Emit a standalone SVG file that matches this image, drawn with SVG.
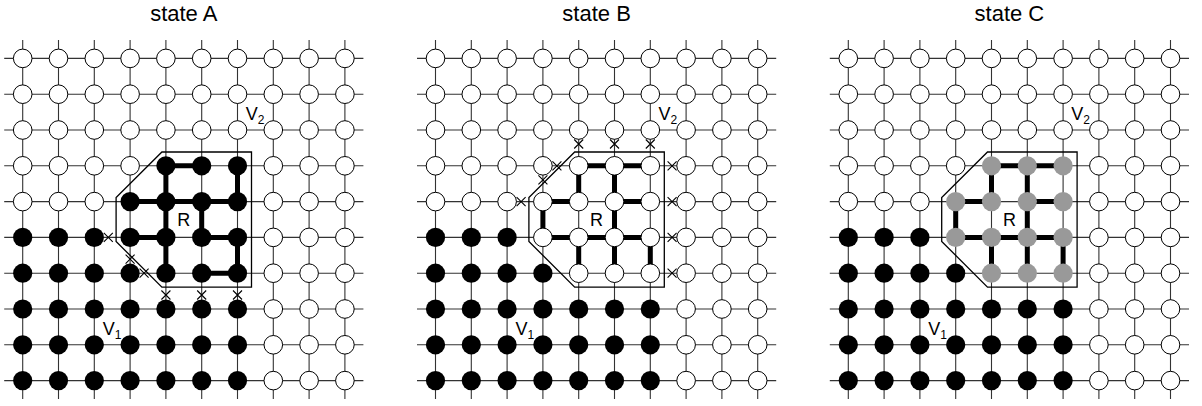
<svg xmlns="http://www.w3.org/2000/svg" xmlns:xlink="http://www.w3.org/1999/xlink" width="1202" height="406" viewBox="0 0 1202 406">
<style>
.grid{stroke:#333;stroke-width:1.1;fill:none}
.thick{stroke:#000;stroke-width:5;fill:none;stroke-linecap:butt}
.outline{stroke:#000;stroke-width:1.3;fill:none}
.cut{stroke:#000;stroke-width:1.1;fill:none}
.w{fill:#fff;stroke:#000;stroke-width:1}
.b{fill:#000}
.g{fill:#999}
.title{font-family:"Liberation Sans",Arial,sans-serif;font-size:22px;fill:#000;text-anchor:middle}
.lbl{font-family:"Liberation Sans",Arial,sans-serif;font-size:18px;fill:#000}
.sub{font-size:12px}
</style>
<defs>
<path id="x" d="M-4.5,-4.5L4.5,4.5M-4.5,4.5L4.5,-4.5" class="cut"/>
<g id="gridlines" class="grid">
<path d="M-18.5,0H340.7M-18.5,35.8H340.7M-18.5,71.6H340.7M-18.5,107.4H340.7M-18.5,143.2H340.7M-18.5,179H340.7M-18.5,214.8H340.7M-18.5,250.6H340.7M-18.5,286.4H340.7M-18.5,322.2H340.7"/>
<path d="M0,-18.5V340.7M35.8,-18.5V340.7M71.6,-18.5V340.7M107.4,-18.5V340.7M143.2,-18.5V340.7M179,-18.5V340.7M214.8,-18.5V340.7M250.6,-18.5V340.7M286.4,-18.5V340.7M322.2,-18.5V340.7"/>
</g>
<polygon id="region" class="outline" points="139.2,93.6 228.8,93.6 228.8,228.8 139.2,228.8 93.4,183 93.4,139.2"/>
<circle id="nw" r="9.3" class="w"/>
<circle id="nb" r="9.6" class="b"/>
<circle id="ng" r="9.6" class="g"/>
</defs>

<text class="title" x="183.8" y="21">state A</text>
<text class="title" x="596.6" y="21">state B</text>
<text class="title" x="1009.4" y="21">state C</text>

<!-- Panel A -->
<g id="panelA" transform="translate(22.7,58.4)">
<g id="A-connectors">
<use href="#gridlines"/>
<path class="thick" d="M143.2,107.4H179 M107.4,143.2H214.8 M107.4,179H143.2 M179,179H214.8 M179,214.8H214.8 M143.2,107.4V214.8 M214.8,107.4V143.2 M214.8,179V214.8 M179,143.2V179"/>
<use href="#region"/>
</g>
<g id="A-nodes">
<g id="A-r0"><use href="#nw" x="0" y="0"/><use href="#nw" x="35.8" y="0"/><use href="#nw" x="71.6" y="0"/><use href="#nw" x="107.4" y="0"/><use href="#nw" x="143.2" y="0"/><use href="#nw" x="179" y="0"/><use href="#nw" x="214.8" y="0"/><use href="#nw" x="250.6" y="0"/><use href="#nw" x="286.4" y="0"/><use href="#nw" x="322.2" y="0"/></g>
<g id="A-r1"><use href="#nw" x="0" y="35.8"/><use href="#nw" x="35.8" y="35.8"/><use href="#nw" x="71.6" y="35.8"/><use href="#nw" x="107.4" y="35.8"/><use href="#nw" x="143.2" y="35.8"/><use href="#nw" x="179" y="35.8"/><use href="#nw" x="214.8" y="35.8"/><use href="#nw" x="250.6" y="35.8"/><use href="#nw" x="286.4" y="35.8"/><use href="#nw" x="322.2" y="35.8"/></g>
<g id="A-r2"><use href="#nw" x="0" y="71.6"/><use href="#nw" x="35.8" y="71.6"/><use href="#nw" x="71.6" y="71.6"/><use href="#nw" x="107.4" y="71.6"/><use href="#nw" x="143.2" y="71.6"/><use href="#nw" x="179" y="71.6"/><use href="#nw" x="214.8" y="71.6"/><use href="#nw" x="250.6" y="71.6"/><use href="#nw" x="286.4" y="71.6"/><use href="#nw" x="322.2" y="71.6"/></g>
<g id="A-r3"><use href="#nw" x="0" y="107.4"/><use href="#nw" x="35.8" y="107.4"/><use href="#nw" x="71.6" y="107.4"/><use href="#nw" x="107.4" y="107.4"/><use href="#nb" x="143.2" y="107.4"/><use href="#nb" x="179" y="107.4"/><use href="#nb" x="214.8" y="107.4"/><use href="#nw" x="250.6" y="107.4"/><use href="#nw" x="286.4" y="107.4"/><use href="#nw" x="322.2" y="107.4"/></g>
<g id="A-r4"><use href="#nw" x="0" y="143.2"/><use href="#nw" x="35.8" y="143.2"/><use href="#nw" x="71.6" y="143.2"/><use href="#nb" x="107.4" y="143.2"/><use href="#nb" x="143.2" y="143.2"/><use href="#nb" x="179" y="143.2"/><use href="#nb" x="214.8" y="143.2"/><use href="#nw" x="250.6" y="143.2"/><use href="#nw" x="286.4" y="143.2"/><use href="#nw" x="322.2" y="143.2"/></g>
<g id="A-r5"><use href="#nb" x="0" y="179"/><use href="#nb" x="35.8" y="179"/><use href="#nb" x="71.6" y="179"/><use href="#nb" x="107.4" y="179"/><use href="#nb" x="143.2" y="179"/><use href="#nb" x="179" y="179"/><use href="#nb" x="214.8" y="179"/><use href="#nw" x="250.6" y="179"/><use href="#nw" x="286.4" y="179"/><use href="#nw" x="322.2" y="179"/></g>
<g id="A-r6"><use href="#nb" x="0" y="214.8"/><use href="#nb" x="35.8" y="214.8"/><use href="#nb" x="71.6" y="214.8"/><use href="#nb" x="107.4" y="214.8"/><use href="#nb" x="143.2" y="214.8"/><use href="#nb" x="179" y="214.8"/><use href="#nb" x="214.8" y="214.8"/><use href="#nw" x="250.6" y="214.8"/><use href="#nw" x="286.4" y="214.8"/><use href="#nw" x="322.2" y="214.8"/></g>
<g id="A-r7"><use href="#nb" x="0" y="250.6"/><use href="#nb" x="35.8" y="250.6"/><use href="#nb" x="71.6" y="250.6"/><use href="#nb" x="107.4" y="250.6"/><use href="#nb" x="143.2" y="250.6"/><use href="#nb" x="179" y="250.6"/><use href="#nb" x="214.8" y="250.6"/><use href="#nw" x="250.6" y="250.6"/><use href="#nw" x="286.4" y="250.6"/><use href="#nw" x="322.2" y="250.6"/></g>
<g id="A-r8"><use href="#nb" x="0" y="286.4"/><use href="#nb" x="35.8" y="286.4"/><use href="#nb" x="71.6" y="286.4"/><use href="#nb" x="107.4" y="286.4"/><use href="#nb" x="143.2" y="286.4"/><use href="#nb" x="179" y="286.4"/><use href="#nb" x="214.8" y="286.4"/><use href="#nw" x="250.6" y="286.4"/><use href="#nw" x="286.4" y="286.4"/><use href="#nw" x="322.2" y="286.4"/></g>
<g id="A-r9"><use href="#nb" x="0" y="322.2"/><use href="#nb" x="35.8" y="322.2"/><use href="#nb" x="71.6" y="322.2"/><use href="#nb" x="107.4" y="322.2"/><use href="#nb" x="143.2" y="322.2"/><use href="#nb" x="179" y="322.2"/><use href="#nb" x="214.8" y="322.2"/><use href="#nw" x="250.6" y="322.2"/><use href="#nw" x="286.4" y="322.2"/><use href="#nw" x="322.2" y="322.2"/></g>
</g>
<g id="A-cuts"><use href="#x" x="85.6" y="179"/><use href="#x" x="107.4" y="200.8"/><use href="#x" x="121.4" y="214.8"/><use href="#x" x="143.2" y="236.6"/><use href="#x" x="179" y="236.6"/><use href="#x" x="214.8" y="236.6"/></g>
<text class="lbl" x="161.1" y="168" text-anchor="middle">R</text>
<text class="lbl" x="223" y="62">V<tspan class="sub" dy="4">2</tspan></text>
<text class="lbl" x="80" y="277">V<tspan class="sub" dy="4">1</tspan></text>
</g>

<!-- Panel B -->
<g id="panelB" transform="translate(435.5,58.4)">
<g id="B-connectors">
<use href="#gridlines"/>
<path class="thick" d="M143.2,107.4H214.8 M107.4,143.2H143.2 M179,143.2H214.8 M107.4,179H214.8 M143.2,107.4V143.2 M143.2,179V214.8 M179,107.4V214.8 M107.4,143.2V179 M214.8,179V214.8"/>
<use href="#region"/>
</g>
<g id="B-nodes">
<g id="B-r0"><use href="#nw" x="0" y="0"/><use href="#nw" x="35.8" y="0"/><use href="#nw" x="71.6" y="0"/><use href="#nw" x="107.4" y="0"/><use href="#nw" x="143.2" y="0"/><use href="#nw" x="179" y="0"/><use href="#nw" x="214.8" y="0"/><use href="#nw" x="250.6" y="0"/><use href="#nw" x="286.4" y="0"/><use href="#nw" x="322.2" y="0"/></g>
<g id="B-r1"><use href="#nw" x="0" y="35.8"/><use href="#nw" x="35.8" y="35.8"/><use href="#nw" x="71.6" y="35.8"/><use href="#nw" x="107.4" y="35.8"/><use href="#nw" x="143.2" y="35.8"/><use href="#nw" x="179" y="35.8"/><use href="#nw" x="214.8" y="35.8"/><use href="#nw" x="250.6" y="35.8"/><use href="#nw" x="286.4" y="35.8"/><use href="#nw" x="322.2" y="35.8"/></g>
<g id="B-r2"><use href="#nw" x="0" y="71.6"/><use href="#nw" x="35.8" y="71.6"/><use href="#nw" x="71.6" y="71.6"/><use href="#nw" x="107.4" y="71.6"/><use href="#nw" x="143.2" y="71.6"/><use href="#nw" x="179" y="71.6"/><use href="#nw" x="214.8" y="71.6"/><use href="#nw" x="250.6" y="71.6"/><use href="#nw" x="286.4" y="71.6"/><use href="#nw" x="322.2" y="71.6"/></g>
<g id="B-r3"><use href="#nw" x="0" y="107.4"/><use href="#nw" x="35.8" y="107.4"/><use href="#nw" x="71.6" y="107.4"/><use href="#nw" x="107.4" y="107.4"/><use href="#nw" x="143.2" y="107.4"/><use href="#nw" x="179" y="107.4"/><use href="#nw" x="214.8" y="107.4"/><use href="#nw" x="250.6" y="107.4"/><use href="#nw" x="286.4" y="107.4"/><use href="#nw" x="322.2" y="107.4"/></g>
<g id="B-r4"><use href="#nw" x="0" y="143.2"/><use href="#nw" x="35.8" y="143.2"/><use href="#nw" x="71.6" y="143.2"/><use href="#nw" x="107.4" y="143.2"/><use href="#nw" x="143.2" y="143.2"/><use href="#nw" x="179" y="143.2"/><use href="#nw" x="214.8" y="143.2"/><use href="#nw" x="250.6" y="143.2"/><use href="#nw" x="286.4" y="143.2"/><use href="#nw" x="322.2" y="143.2"/></g>
<g id="B-r5"><use href="#nb" x="0" y="179"/><use href="#nb" x="35.8" y="179"/><use href="#nb" x="71.6" y="179"/><use href="#nw" x="107.4" y="179"/><use href="#nw" x="143.2" y="179"/><use href="#nw" x="179" y="179"/><use href="#nw" x="214.8" y="179"/><use href="#nw" x="250.6" y="179"/><use href="#nw" x="286.4" y="179"/><use href="#nw" x="322.2" y="179"/></g>
<g id="B-r6"><use href="#nb" x="0" y="214.8"/><use href="#nb" x="35.8" y="214.8"/><use href="#nb" x="71.6" y="214.8"/><use href="#nb" x="107.4" y="214.8"/><use href="#nw" x="143.2" y="214.8"/><use href="#nw" x="179" y="214.8"/><use href="#nw" x="214.8" y="214.8"/><use href="#nw" x="250.6" y="214.8"/><use href="#nw" x="286.4" y="214.8"/><use href="#nw" x="322.2" y="214.8"/></g>
<g id="B-r7"><use href="#nb" x="0" y="250.6"/><use href="#nb" x="35.8" y="250.6"/><use href="#nb" x="71.6" y="250.6"/><use href="#nb" x="107.4" y="250.6"/><use href="#nb" x="143.2" y="250.6"/><use href="#nb" x="179" y="250.6"/><use href="#nb" x="214.8" y="250.6"/><use href="#nw" x="250.6" y="250.6"/><use href="#nw" x="286.4" y="250.6"/><use href="#nw" x="322.2" y="250.6"/></g>
<g id="B-r8"><use href="#nb" x="0" y="286.4"/><use href="#nb" x="35.8" y="286.4"/><use href="#nb" x="71.6" y="286.4"/><use href="#nb" x="107.4" y="286.4"/><use href="#nb" x="143.2" y="286.4"/><use href="#nb" x="179" y="286.4"/><use href="#nb" x="214.8" y="286.4"/><use href="#nw" x="250.6" y="286.4"/><use href="#nw" x="286.4" y="286.4"/><use href="#nw" x="322.2" y="286.4"/></g>
<g id="B-r9"><use href="#nb" x="0" y="322.2"/><use href="#nb" x="35.8" y="322.2"/><use href="#nb" x="71.6" y="322.2"/><use href="#nb" x="107.4" y="322.2"/><use href="#nb" x="143.2" y="322.2"/><use href="#nb" x="179" y="322.2"/><use href="#nb" x="214.8" y="322.2"/><use href="#nw" x="250.6" y="322.2"/><use href="#nw" x="286.4" y="322.2"/><use href="#nw" x="322.2" y="322.2"/></g>
</g>
<g id="B-cuts"><use href="#x" x="121.4" y="107.4"/><use href="#x" x="107.4" y="121.4"/><use href="#x" x="85.6" y="143.2"/><use href="#x" x="143.2" y="85.6"/><use href="#x" x="179" y="85.6"/><use href="#x" x="214.8" y="85.6"/><use href="#x" x="236.6" y="107.4"/><use href="#x" x="236.6" y="143.2"/><use href="#x" x="236.6" y="179"/><use href="#x" x="236.6" y="214.8"/></g>
<text class="lbl" x="161.1" y="168" text-anchor="middle">R</text>
<text class="lbl" x="223" y="62">V<tspan class="sub" dy="4">2</tspan></text>
<text class="lbl" x="80" y="277">V<tspan class="sub" dy="4">1</tspan></text>
</g>

<!-- Panel C -->
<g id="panelC" transform="translate(848.3,58.4)">
<g id="C-connectors">
<use href="#gridlines"/>
<path class="thick" d="M143.2,107.4H214.8 M107.4,143.2H143.2 M179,143.2H214.8 M107.4,179H214.8 M143.2,107.4V143.2 M143.2,179V214.8 M179,107.4V214.8 M107.4,143.2V179 M214.8,179V214.8"/>
<use href="#region"/>
</g>
<g id="C-nodes">
<g id="C-r0"><use href="#nw" x="0" y="0"/><use href="#nw" x="35.8" y="0"/><use href="#nw" x="71.6" y="0"/><use href="#nw" x="107.4" y="0"/><use href="#nw" x="143.2" y="0"/><use href="#nw" x="179" y="0"/><use href="#nw" x="214.8" y="0"/><use href="#nw" x="250.6" y="0"/><use href="#nw" x="286.4" y="0"/><use href="#nw" x="322.2" y="0"/></g>
<g id="C-r1"><use href="#nw" x="0" y="35.8"/><use href="#nw" x="35.8" y="35.8"/><use href="#nw" x="71.6" y="35.8"/><use href="#nw" x="107.4" y="35.8"/><use href="#nw" x="143.2" y="35.8"/><use href="#nw" x="179" y="35.8"/><use href="#nw" x="214.8" y="35.8"/><use href="#nw" x="250.6" y="35.8"/><use href="#nw" x="286.4" y="35.8"/><use href="#nw" x="322.2" y="35.8"/></g>
<g id="C-r2"><use href="#nw" x="0" y="71.6"/><use href="#nw" x="35.8" y="71.6"/><use href="#nw" x="71.6" y="71.6"/><use href="#nw" x="107.4" y="71.6"/><use href="#nw" x="143.2" y="71.6"/><use href="#nw" x="179" y="71.6"/><use href="#nw" x="214.8" y="71.6"/><use href="#nw" x="250.6" y="71.6"/><use href="#nw" x="286.4" y="71.6"/><use href="#nw" x="322.2" y="71.6"/></g>
<g id="C-r3"><use href="#nw" x="0" y="107.4"/><use href="#nw" x="35.8" y="107.4"/><use href="#nw" x="71.6" y="107.4"/><use href="#nw" x="107.4" y="107.4"/><use href="#ng" x="143.2" y="107.4"/><use href="#ng" x="179" y="107.4"/><use href="#ng" x="214.8" y="107.4"/><use href="#nw" x="250.6" y="107.4"/><use href="#nw" x="286.4" y="107.4"/><use href="#nw" x="322.2" y="107.4"/></g>
<g id="C-r4"><use href="#nw" x="0" y="143.2"/><use href="#nw" x="35.8" y="143.2"/><use href="#nw" x="71.6" y="143.2"/><use href="#ng" x="107.4" y="143.2"/><use href="#ng" x="143.2" y="143.2"/><use href="#ng" x="179" y="143.2"/><use href="#ng" x="214.8" y="143.2"/><use href="#nw" x="250.6" y="143.2"/><use href="#nw" x="286.4" y="143.2"/><use href="#nw" x="322.2" y="143.2"/></g>
<g id="C-r5"><use href="#nb" x="0" y="179"/><use href="#nb" x="35.8" y="179"/><use href="#nb" x="71.6" y="179"/><use href="#ng" x="107.4" y="179"/><use href="#ng" x="143.2" y="179"/><use href="#ng" x="179" y="179"/><use href="#ng" x="214.8" y="179"/><use href="#nw" x="250.6" y="179"/><use href="#nw" x="286.4" y="179"/><use href="#nw" x="322.2" y="179"/></g>
<g id="C-r6"><use href="#nb" x="0" y="214.8"/><use href="#nb" x="35.8" y="214.8"/><use href="#nb" x="71.6" y="214.8"/><use href="#nb" x="107.4" y="214.8"/><use href="#ng" x="143.2" y="214.8"/><use href="#ng" x="179" y="214.8"/><use href="#ng" x="214.8" y="214.8"/><use href="#nw" x="250.6" y="214.8"/><use href="#nw" x="286.4" y="214.8"/><use href="#nw" x="322.2" y="214.8"/></g>
<g id="C-r7"><use href="#nb" x="0" y="250.6"/><use href="#nb" x="35.8" y="250.6"/><use href="#nb" x="71.6" y="250.6"/><use href="#nb" x="107.4" y="250.6"/><use href="#nb" x="143.2" y="250.6"/><use href="#nb" x="179" y="250.6"/><use href="#nb" x="214.8" y="250.6"/><use href="#nw" x="250.6" y="250.6"/><use href="#nw" x="286.4" y="250.6"/><use href="#nw" x="322.2" y="250.6"/></g>
<g id="C-r8"><use href="#nb" x="0" y="286.4"/><use href="#nb" x="35.8" y="286.4"/><use href="#nb" x="71.6" y="286.4"/><use href="#nb" x="107.4" y="286.4"/><use href="#nb" x="143.2" y="286.4"/><use href="#nb" x="179" y="286.4"/><use href="#nb" x="214.8" y="286.4"/><use href="#nw" x="250.6" y="286.4"/><use href="#nw" x="286.4" y="286.4"/><use href="#nw" x="322.2" y="286.4"/></g>
<g id="C-r9"><use href="#nb" x="0" y="322.2"/><use href="#nb" x="35.8" y="322.2"/><use href="#nb" x="71.6" y="322.2"/><use href="#nb" x="107.4" y="322.2"/><use href="#nb" x="143.2" y="322.2"/><use href="#nb" x="179" y="322.2"/><use href="#nb" x="214.8" y="322.2"/><use href="#nw" x="250.6" y="322.2"/><use href="#nw" x="286.4" y="322.2"/><use href="#nw" x="322.2" y="322.2"/></g>
</g>
<text class="lbl" x="161.1" y="168" text-anchor="middle">R</text>
<text class="lbl" x="223" y="62">V<tspan class="sub" dy="4">2</tspan></text>
<text class="lbl" x="80" y="277">V<tspan class="sub" dy="4">1</tspan></text>
</g>
</svg>
